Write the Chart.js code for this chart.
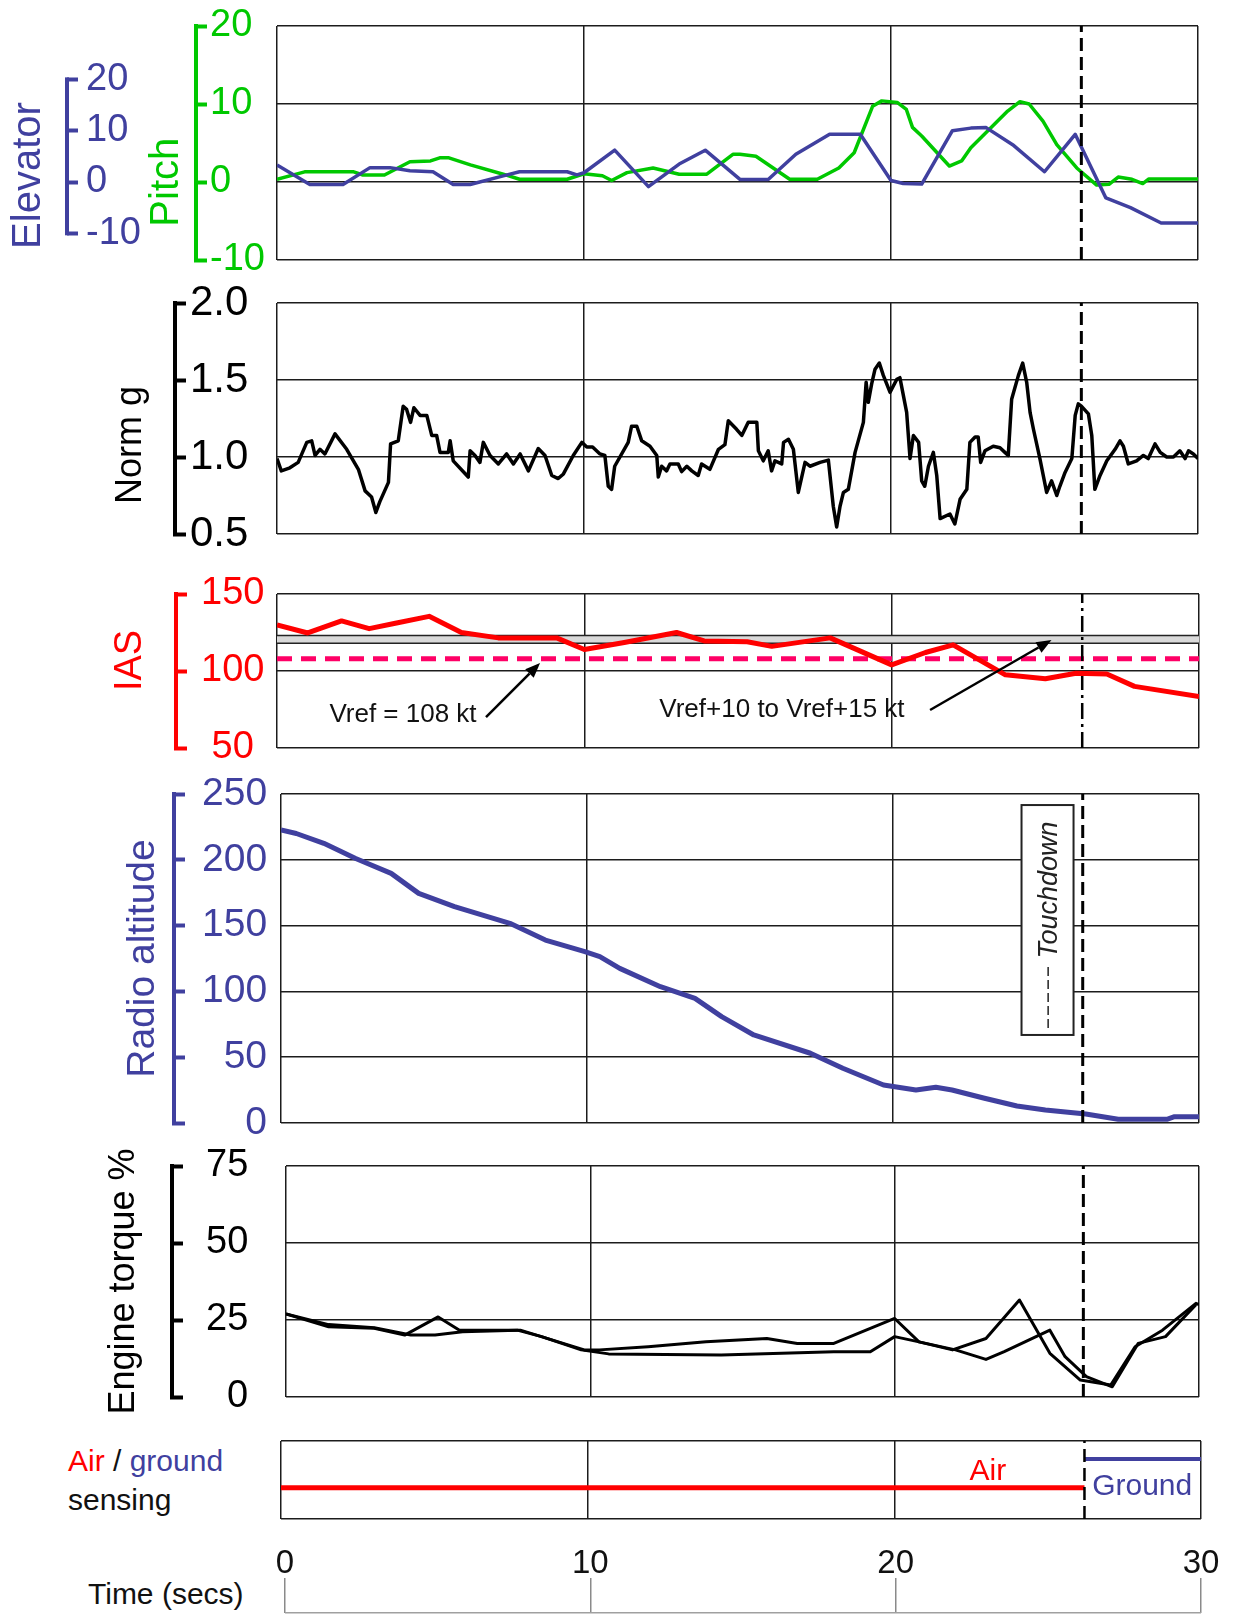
<!DOCTYPE html>
<html>
<head>
<meta charset="utf-8">
<script src="https://cdn.jsdelivr.net/npm/chart.js@4.4.1/dist/chart.umd.min.js"></script>
<style>
  html, body { margin:0; padding:0; background:#fff; }
  #wrap { position:relative; width:1234px; height:1615px; background:#fff; overflow:hidden; }
  .lbl { position:absolute; font-family:'Liberation Sans', Arial, sans-serif; color:#111; white-space:nowrap; }
</style>
</head>
<body>
<div id="wrap">
  <div class="lbl" style="left:68px;top:1441px;font-size:30px;line-height:39px;">
    <span style="color:#ff0000">Air</span> / <span style="color:#40409f">ground</span><br>sensing
  </div>
  <div class="lbl" style="left:88px;top:1579px;font-size:30px;line-height:30px;">Time (secs)</div>
</div>
<script>
// ---------------- DATA ----------------
const timeTicks = [0, 10, 20, 30];
const touchdownT = 26.2;

const elevTicks = [-10, 0, 10, 20];
const pitchTicks = [-10, 0, 10, 20];
const normgTicks = [0.5, 1.0, 1.5, 2.0];
const iasTicks = [50, 100, 150];
const raltTicks = [0, 50, 100, 150, 200, 250];
const torqueTicks = [0, 25, 50, 75];

// [time s, elevator deg]
const elevator = [[0,3.3],[1.07,-0.5],[2.15,-0.5],[3.03,2.8],[3.68,2.8],[4.33,2.2],[5.08,2.0],[5.74,-0.5],[6.29,-0.5],[7.37,1.2],
  [7.9,2.0],[9.45,2.0],[9.77,1.4],[10.0,1.8],[11.0,6.2],[12.1,-0.9],[13.1,3.5],[13.95,6.2],[15.08,0.5],[16.0,0.5],
  [16.9,5.4],[18.0,9.3],[19.0,9.3],[20.0,0.3],[20.4,-0.3],[21.0,-0.4],[22.0,10.0],[22.6,10.5],[23.1,10.6],[24.0,7.1],
  [25.0,2.0],[26.0,9.3],[27.0,-3.1],[27.8,-5.0],[28.8,-8.0],[30.0,-8.0]];

// [time s, pitch deg]
const pitch = [[0,0.35],[0.9,1.3],[2.5,1.3],[2.8,0.9],[3.5,0.9],[4.33,2.6],[5.0,2.7],[5.3,3.1],[5.6,3.1],[6.3,2.2],
  [7.37,1.0],[7.9,0.35],[9.45,0.35],[10.0,1.06],[10.6,0.8],[10.9,0.2],[11.4,1.2],[12.25,1.8],[13.1,1.0],[14.0,1.0],
  [14.85,3.55],[15.08,3.55],[15.6,3.3],[16.7,0.35],[17.6,0.35],[18.3,1.8],[18.8,3.75],[19.4,9.7],[19.7,10.4],[20.2,10.2],
  [20.5,9.3],[20.7,7.0],[21.0,5.9],[21.9,2.05],[22.3,2.7],[22.6,4.4],[23.8,9.1],[24.2,10.3],[24.5,10.0],[24.95,7.8],
  [25.4,4.8],[26.05,1.8],[26.7,-0.4],[27.1,-0.3],[27.4,0.64],[27.85,0.35],[28.2,-0.2],[28.4,0.4],[30.0,0.4]];

// [time s, normal g]
const normG = [[0,0.99],[0.14,0.91],[0.42,0.93],[0.69,0.965],[0.97,1.095],[1.13,1.105],[1.24,1.01],[1.4,1.05],[1.56,1.02],[1.89,1.15],
  [2.27,1.05],[2.65,0.92],[2.87,0.78],[3.08,0.74],[3.22,0.64],[3.35,0.71],[3.63,0.835],[3.7,1.085],[3.95,1.105],[4.11,1.33],
  [4.22,1.31],[4.35,1.225],[4.46,1.32],[4.66,1.27],[4.88,1.27],[5.04,1.14],[5.2,1.14],[5.31,1.03],[5.58,1.03],[5.64,1.105],
  [5.74,0.975],[6.23,0.87],[6.29,1.04],[6.45,1.01],[6.61,0.965],[6.72,1.095],[6.94,1.01],[7.21,0.955],[7.48,1.02],[7.7,0.955],
  [7.92,1.02],[8.19,0.91],[8.51,1.055],[8.73,1.01],[8.95,0.88],[9.16,0.86],[9.33,0.89],[9.65,1.01],[9.93,1.095],[10.09,1.065],
  [10.28,1.065],[10.52,1.02],[10.68,1.01],[10.79,0.81],[10.9,0.79],[11.0,0.94],[11.44,1.095],[11.55,1.2],[11.72,1.2],[11.88,1.105],
  [12.15,1.07],[12.37,1.01],[12.42,0.87],[12.53,0.94],[12.69,0.91],[12.8,0.955],[13.07,0.955],[13.18,0.905],[13.35,0.94],[13.51,0.91],
  [13.72,0.88],[13.83,0.955],[14.1,0.92],[14.38,1.05],[14.59,1.08],[14.7,1.235],[14.97,1.18],[15.14,1.14],[15.35,1.225],[15.63,1.225],
  [15.68,1.04],[15.84,0.975],[16.0,1.04],[16.11,0.91],[16.22,0.975],[16.44,0.955],[16.5,1.095],[16.66,1.115],[16.82,1.05],[16.98,0.77],
  [17.2,0.965],[17.36,0.94],[17.69,0.965],[17.96,0.98],[18.12,0.68],[18.23,0.545],[18.34,0.68],[18.45,0.77],[18.61,0.79],[18.83,1.03],
  [19.1,1.225],[19.19,1.485],[19.26,1.355],[19.37,1.475],[19.48,1.57],[19.62,1.61],[19.75,1.53],[19.97,1.42],[20.19,1.505],[20.29,1.515],
  [20.51,1.29],[20.62,0.99],[20.73,1.14],[20.9,1.095],[21.0,0.845],[21.1,0.81],[21.22,0.94],[21.38,1.03],[21.49,0.88],[21.6,0.6],
  [21.92,0.63],[22.08,0.565],[22.25,0.725],[22.47,0.79],[22.57,1.095],[22.74,1.13],[22.84,1.13],[22.92,0.965],[23.06,1.04],[23.33,1.07],
  [23.55,1.06],[23.71,1.03],[23.82,1.01],[23.93,1.375],[24.15,1.53],[24.29,1.61],[24.42,1.485],[24.53,1.29],[24.64,1.18],[24.85,0.99],
  [25.07,0.77],[25.23,0.845],[25.4,0.75],[25.5,0.81],[25.67,0.9],[25.89,0.99],[26.0,1.27],[26.1,1.345],[26.2,1.33],[26.43,1.28],
  [26.54,1.14],[26.64,0.79],[26.81,0.88],[27.03,0.975],[27.3,1.05],[27.46,1.105],[27.57,1.07],[27.73,0.955],[28.0,0.975],[28.22,1.01],
  [28.38,0.99],[28.6,1.085],[28.77,1.03],[28.98,1.0],[29.2,1.0],[29.41,1.04],[29.58,0.99],[29.69,1.04],[29.85,1.02],[30.0,0.99]];

// [time s, IAS kt]
const ias = [[0,130],[1.0,124.7],[2.1,132.5],[3.0,127.5],[3.85,131],[4.95,135.5],[6.0,125],[7.2,121.5],[9.1,121.5],[10.0,114],
  [11.3,118.5],[13.0,125],[13.9,119.5],[15.3,119],[16.1,116],[18.0,121.5],[20.0,104],[21.1,112],[22.0,117],[23.7,97.5],
  [25.0,95],[26.0,98.5],[27.0,98],[27.9,90],[30,83.5]];
const vref = 108;
const vrefBand = [118, 123];

// [time s, radio altitude ft]
const radioAlt = [[0,222.6],[0.5,220],[1.4,212.5],[2.44,201],[3.6,189.7],[4.5,174.5],[5.67,164.4],[7.48,151.7],[8.64,139],[9.93,130.2],
  [10.42,126.4],[11.07,117.5],[12.4,103.6],[13.53,94.7],[14.4,80.8],[15.45,66.9],[17.3,53],[18.36,41.6],[19.69,28.9],[20.75,25.1],
  [21.4,27.1],[21.93,25.1],[22.99,18.8],[24.05,12.9],[24.98,9.9],[26.3,6.8],[27.36,2.8],[28.95,2.8],[29.2,4.8],[30,4.8]];

// [time s, torque %] engine 1 and engine 2
const torque1 = [[0,27],[1.4,22.8],[2.9,22.3],[3.9,20.1],[5.0,26],[5.7,21.7],[7.7,21.7],[9.8,15.3],[10.3,15.3],[11.9,16.3],
  [13.8,17.9],[15.8,19],[16.8,17.4],[18.0,17.4],[20.0,25.5],[20.8,17.9],[21.9,15.3],[23.0,19],[24.1,31.5],[25.1,14.2],
  [26.1,5.5],[27.1,3.9],[27.9,16.3],[28.8,21.7],[29.9,30.4],[30,30]];
const torque2 = [[0,27],[1.4,23.5],[2.9,22.5],[4.1,20.1],[4.9,20.1],[5.8,21.2],[7.6,21.7],[8.4,19.6],[9.7,15.3],[10.6,14],
  [14.3,13.6],[18.0,14.7],[19.2,14.7],[20.0,19.6],[20.8,17.9],[22.0,15.3],[23.0,12.2],[23.6,14.7],[25.1,21.7],[25.6,13.1],
  [26.3,6.6],[27.15,3.3],[28.0,17.4],[28.9,19.6],[29.9,30]];

// air / ground discrete: air = 0, ground = 1
const airSegment = [[0,0],[touchdownT,0]];
const groundSegment = [[touchdownT,1],[30,1]];
const sensingRange = [-1.08, 1.62];

// ---------------- STYLE ----------------
const FONT = "'Liberation Sans', Arial, Helvetica, sans-serif";
Chart.defaults.font.family = FONT;
const GRID = '#1c1c1c';
const BLUE = '#40409f';
const GREEN = '#00c800';
const RED = '#ff0000';
const MAGENTA = '#ff0066';

const pts = arr => arr.map(([x, y]) => ({x, y}));
// pad labels with spaces (space = half a digit width) to align them
const padRight = (digits) => v => ' '.repeat(2 * Math.max(0, digits - String(v).length)) + v;
const padCenter = (digits) => v => ' '.repeat(Math.max(0, digits - String(v).length)) + v;

const notesPlugin = {
  id: 'notes',
  afterDatasetsDraw(chart, args, opts) {
    const items = (opts && opts.items) || [];
    const ctx = chart.ctx;
    items.forEach(it => {
      const xs = chart.scales.x, ys = chart.scales[it.yAxis || 'y'];
      const X = v => xs.getPixelForValue(v), Y = v => ys.getPixelForValue(v);
      ctx.save();
      if (it.type === 'text') {
        ctx.font = it.font; ctx.fillStyle = it.color;
        ctx.textAlign = it.align || 'center'; ctx.textBaseline = 'middle';
        ctx.translate(X(it.x), Y(it.y));
        if (it.rotate) ctx.rotate(it.rotate);
        ctx.fillText(it.text, 0, 0);
      } else if (it.type === 'arrow') {
        const x1 = X(it.x1), y1 = Y(it.y1), x2 = X(it.x2), y2 = Y(it.y2);
        const a = Math.atan2(y2 - y1, x2 - x1), hl = 15, hw = 6;
        const bx = x2 - hl * Math.cos(a), by = y2 - hl * Math.sin(a);
        ctx.strokeStyle = it.color; ctx.fillStyle = it.color; ctx.lineWidth = it.width || 2.5;
        ctx.beginPath(); ctx.moveTo(x1, y1); ctx.lineTo(bx, by); ctx.stroke();
        ctx.beginPath(); ctx.moveTo(x2, y2);
        ctx.lineTo(bx + hw * Math.sin(a), by - hw * Math.cos(a));
        ctx.lineTo(bx - hw * Math.sin(a), by + hw * Math.cos(a));
        ctx.closePath(); ctx.fill();
      } else if (it.type === 'box') {
        const x1 = X(it.x1), y1 = Y(it.y1), x2 = X(it.x2), y2 = Y(it.y2);
        ctx.fillStyle = it.fill; ctx.fillRect(x1, y1, x2 - x1, y2 - y1);
        ctx.strokeStyle = it.stroke; ctx.lineWidth = it.width; ctx.strokeRect(x1, y1, x2 - x1, y2 - y1);
      } else if (it.type === 'line') {
        ctx.strokeStyle = it.color; ctx.lineWidth = it.width;
        if (it.dash) ctx.setLineDash(it.dash);
        ctx.beginPath(); ctx.moveTo(X(it.x1), Y(it.y1)); ctx.lineTo(X(it.x2), Y(it.y2)); ctx.stroke();
      } else if (it.type === 'bracket') {
        const x = ys.right;
        ctx.strokeStyle = it.color; ctx.lineWidth = it.width; ctx.lineCap = 'square';
        ctx.beginPath(); ctx.moveTo(x, Y(it.from)); ctx.lineTo(x, Y(it.to)); ctx.stroke();
      }
      ctx.restore();
    });
  }
};
Chart.register(notesPlugin);

function xAxis() {
  return {
    type: 'linear', min: 0, max: 30,
    afterBuildTicks: s => { s.ticks = timeTicks.map(v => ({value: v})); },
    afterFit: s => { s.height = 0; s.paddingLeft = 0; s.paddingRight = 0; },
    ticks: {display: false},
    grid: {color: GRID, lineWidth: 1.5, drawTicks: false},
    border: {display: false}
  };
}
function gridY(min, max, ticks, width) {
  return {
    type: 'linear', position: 'left', weight: 0, min, max,
    afterBuildTicks: s => { s.ticks = ticks.map(v => ({value: v})); },
    afterFit: s => { s.width = width; s.paddingTop = 0; s.paddingBottom = 0; },
    ticks: {display: false},
    grid: {color: GRID, lineWidth: 1.5, drawTicks: false},
    border: {display: false}
  };
}
function bracketY(o) {
  return {
    type: 'linear', position: 'left', weight: o.weight, min: o.min, max: o.max,
    afterBuildTicks: s => { s.ticks = o.ticks.map(v => ({value: v})); },
    afterFit: s => { s.width = o.width; s.paddingTop = 0; s.paddingBottom = 0; },
    grid: {display: true, drawOnChartArea: false, drawTicks: true, tickLength: -11, tickWidth: 4, tickColor: o.color, color: o.color},
    border: {display: o.border !== false, color: o.color, width: 4},
    ticks: {
      autoSkip: false, mirror: true, padding: o.pad,
      color: o.color, font: {size: o.size || 38},
      callback: o.fmt || (v => String(v))
    },
    title: {display: true, text: o.title, color: o.color, font: {size: o.tsize},
      padding: {top: o.tpad, bottom: 0}, align: o.talign || 'center'}
  };
}
function base(o) {
  return {
    responsive: false, animation: false, devicePixelRatio: 1,
    layout: {padding: o.padding},
    plugins: {legend: {display: false}, tooltip: {enabled: false}, notes: {items: o.notes || []}},
    elements: {point: {radius: 0, hoverRadius: 0}, line: {tension: 0, borderJoinStyle: 'round', fill: false}},
    scales: o.scales
  };
}
const wrap = document.getElementById('wrap');
function mk(top, h, cfg) {
  const c = document.createElement('canvas');
  c.width = 1234; c.height = h;
  c.style.cssText = `position:absolute;left:0;top:${top}px;width:1234px;height:${h}px;`;
  wrap.appendChild(c);
  return new Chart(c.getContext('2d'), cfg);
}
function tdLine(axis, lo, hi, width, dash) {
  return {data: pts([[touchdownT, lo], [touchdownT, hi]]), yAxisID: axis, borderColor: '#000',
    borderWidth: width, borderDash: dash, fill: false, order: -1};
}

// ---------- Panel 1: Elevator / Pitch ----------
mk(0, 290, {
  type: 'line',
  data: {datasets: [
    tdLine('yGrid', -10, 20, 3, [13, 6]),
    {data: pts(elevator), yAxisID: 'yElev', borderColor: BLUE, borderWidth: 3.5, fill: false, order: 1},
    {data: pts(pitch), yAxisID: 'yPitch', borderColor: GREEN, borderWidth: 3.5, fill: false, order: 2}
  ]},
  options: base({
    padding: {left: 0, right: 36, top: 26, bottom: 30},
    scales: {
      x: xAxis(),
      yGrid: gridY(-10, 20, pitchTicks, 81),
      yPitch: bracketY({weight: 1, width: 129, min: -10, max: 20, ticks: pitchTicks, color: GREEN,
        pad: 14, title: '   Pitch', tsize: 40, tpad: 76, talign: 'start'}),
      yElev: bracketY({weight: 2, width: 67, min: -15.2, max: 30.4, ticks: elevTicks, color: BLUE, border: false,
        pad: 19, title: ' Elevator', tsize: 40, tpad: 5, talign: 'start'})
    },
    notes: [{type: 'bracket', yAxis: 'yElev', from: -10, to: 20, color: BLUE, width: 4}]
  })
});

// ---------- Panel 2: Norm g ----------
mk(280, 275, {
  type: 'line',
  data: {datasets: [
    tdLine('yGrid', 0.5, 2.0, 3, [13, 6]),
    {data: pts(normG), yAxisID: 'yG', borderColor: '#000', borderWidth: 3.5, fill: false, order: 1}
  ]},
  options: base({
    padding: {left: 0, right: 36, top: 23, bottom: 21},
    scales: {
      x: xAxis(),
      yGrid: gridY(0.5, 2.0, normgTicks, 102),
      yG: bracketY({weight: 1, width: 175, min: 0.5, max: 2.0, ticks: normgTicks, color: '#000', size: 42,
        pad: 15, fmt: v => v.toFixed(1), title: '   Norm g', tsize: 36, tpad: 109, talign: 'start'})
    }
  })
});

// ---------- Panel 3: IAS ----------
mk(560, 215, {
  type: 'line',
  data: {datasets: [
    {data: pts(ias), yAxisID: 'yIAS', borderColor: RED, borderWidth: 5, fill: false, order: 0},
    {data: pts([[touchdownT, 50], [touchdownT, 150]]), yAxisID: 'yIAS', borderColor: '#000', borderWidth: 2.5,
      borderDash: [16, 5, 3, 5], fill: false, order: 1},
    {data: pts([[0, vref], [30, vref]]), yAxisID: 'yIAS', borderColor: MAGENTA, borderWidth: 5,
      borderDash: [15, 9], fill: false, order: 2},
    {data: pts([[0, vrefBand[1]], [30, vrefBand[1]]]), yAxisID: 'yIAS', borderColor: '#222', borderWidth: 1.5, fill: false, order: 3},
    {data: pts([[0, vrefBand[0]], [30, vrefBand[0]]]), yAxisID: 'yIAS', borderColor: '#222', borderWidth: 1.5,
      fill: '-1', backgroundColor: '#d9d9d9', order: 4}
  ]},
  options: base({
    padding: {left: 0, right: 35, top: 34, bottom: 27},
    scales: {
      x: xAxis(),
      yGrid: gridY(50, 150, iasTicks, 101),
      yIAS: bracketY({weight: 1, width: 176, min: 50, max: 150, ticks: iasTicks, color: RED,
        pad: 25, fmt: padCenter(3), title: '  IAS', tsize: 38, tpad: 108, talign: 'center'})
    },
    notes: [
      {type: 'text', yAxis: 'yIAS', x: 4.1, y: 71.4, text: 'Vref = 108 kt', font: `26px ${FONT}`, color: '#111'},
      {type: 'arrow', yAxis: 'yIAS', x1: 6.8, y1: 70.1, x2: 8.56, y2: 105.2, color: '#000', width: 2.5},
      {type: 'text', yAxis: 'yIAS', x: 16.43, y: 74.7, text: 'Vref+10 to Vref+15 kt', font: `26px ${FONT}`, color: '#111'},
      {type: 'arrow', yAxis: 'yIAS', x1: 21.25, y1: 74.7, x2: 25.2, y2: 120.1, color: '#000', width: 2.5}
    ]
  })
});

// ---------- Panel 4: Radio altitude ----------
mk(770, 380, {
  type: 'line',
  data: {datasets: [
    tdLine('yGrid', 0, 250, 3, [13, 6]),
    {data: pts(radioAlt), yAxisID: 'yRA', borderColor: BLUE, borderWidth: 5, fill: false, order: 1}
  ]},
  options: base({
    padding: {left: 0, right: 35, top: 24, bottom: 27},
    scales: {
      x: xAxis(),
      yGrid: gridY(0, 250, raltTicks, 107),
      yRA: bracketY({weight: 1, width: 174, min: 0, max: 250, ticks: raltTicks, color: BLUE,
        pad: 28, size: 39, fmt: padRight(3), title: 'Radio altitude', tsize: 39, tpad: 120, talign: 'center'})
    },
    notes: [
      {type: 'box', yAxis: 'yRA', x1: 24.2, y1: 241.6, x2: 25.9, y2: 66.9, fill: '#fff', stroke: '#222', width: 2},
      {type: 'line', yAxis: 'yRA', x1: 25.07, y1: 118.5, x2: 25.07, y2: 72.2, color: '#222', width: 1.5, dash: [9, 4]},
      {type: 'text', yAxis: 'yRA', x: 25.1, y: 177, text: 'Touchdown', font: `italic 27px ${FONT}`, color: '#222', rotate: -Math.PI / 2}
    ]
  })
});

// ---------- Panel 5: Engine torque ----------
mk(1140, 290, {
  type: 'line',
  data: {datasets: [
    tdLine('yGrid', 0, 75, 3, [13, 6]),
    {data: pts(torque1), yAxisID: 'yTq', borderColor: '#000', borderWidth: 3, fill: false, order: 1},
    {data: pts(torque2), yAxisID: 'yTq', borderColor: '#000', borderWidth: 3, fill: false, order: 2}
  ]},
  options: base({
    padding: {left: 0, right: 35, top: 26, bottom: 33},
    scales: {
      x: xAxis(),
      yGrid: gridY(0, 75, torqueTicks, 114),
      yTq: bracketY({weight: 1, width: 172, min: 0, max: 75, ticks: torqueTicks, color: '#000',
        pad: 34, fmt: padRight(2), title: 'Engine torque %', tsize: 36, tpad: 102, talign: 'center'})
    }
  })
});

// ---------- Panel 6: Air / ground sensing ----------
mk(1425, 110, {
  type: 'line',
  data: {datasets: [
    tdLine('yAG', sensingRange[0], sensingRange[1], 2.5, [13, 6]),
    {data: pts(airSegment), yAxisID: 'yAG', borderColor: RED, borderWidth: 5, fill: false, order: 1},
    {data: pts(groundSegment), yAxisID: 'yAG', borderColor: BLUE, borderWidth: 4, fill: false, order: 2}
  ]},
  options: base({
    padding: {left: 0, right: 33, top: 16, bottom: 16},
    scales: {
      x: xAxis(),
      yAG: gridY(sensingRange[0], sensingRange[1], sensingRange, 281)
    },
    notes: [
      {type: 'text', yAxis: 'yAG', x: 23.05, y: 0.54, text: 'Air', font: `30px ${FONT}`, color: RED},
      {type: 'text', yAxis: 'yAG', x: 26.45, y: 0.03, text: 'Ground', font: `30px ${FONT}`, color: BLUE, align: 'left'}
    ]
  })
});

// ---------- Time axis ----------
mk(1535, 80, {
  type: 'line',
  data: {datasets: []},
  options: base({
    padding: {left: 0, right: 33, top: 0, bottom: 2},
    scales: {
      x: {
        type: 'linear', position: 'top', min: 0, max: 30,
        afterBuildTicks: s => { s.ticks = timeTicks.map(v => ({value: v})); },
        afterFit: s => { s.height = 43; s.paddingLeft = 0; s.paddingRight = 0; },
        ticks: {padding: -6, color: '#111', font: {size: 33}, autoSkip: false, maxRotation: 0, callback: v => String(v)},
        grid: {color: '#8a8a8a', lineWidth: 1.5, drawTicks: false},
        border: {display: false}
      },
      y: {
        type: 'linear', position: 'left', min: 0, max: 1,
        afterBuildTicks: s => { s.ticks = [{value: 0}]; },
        afterFit: s => { s.width = 285; s.paddingTop = 0; s.paddingBottom = 0; },
        ticks: {display: false},
        grid: {color: '#a0a0a0', lineWidth: 1.5, drawTicks: false},
        border: {display: false}
      }
    }
  })
});
</script>
</body>
</html>
